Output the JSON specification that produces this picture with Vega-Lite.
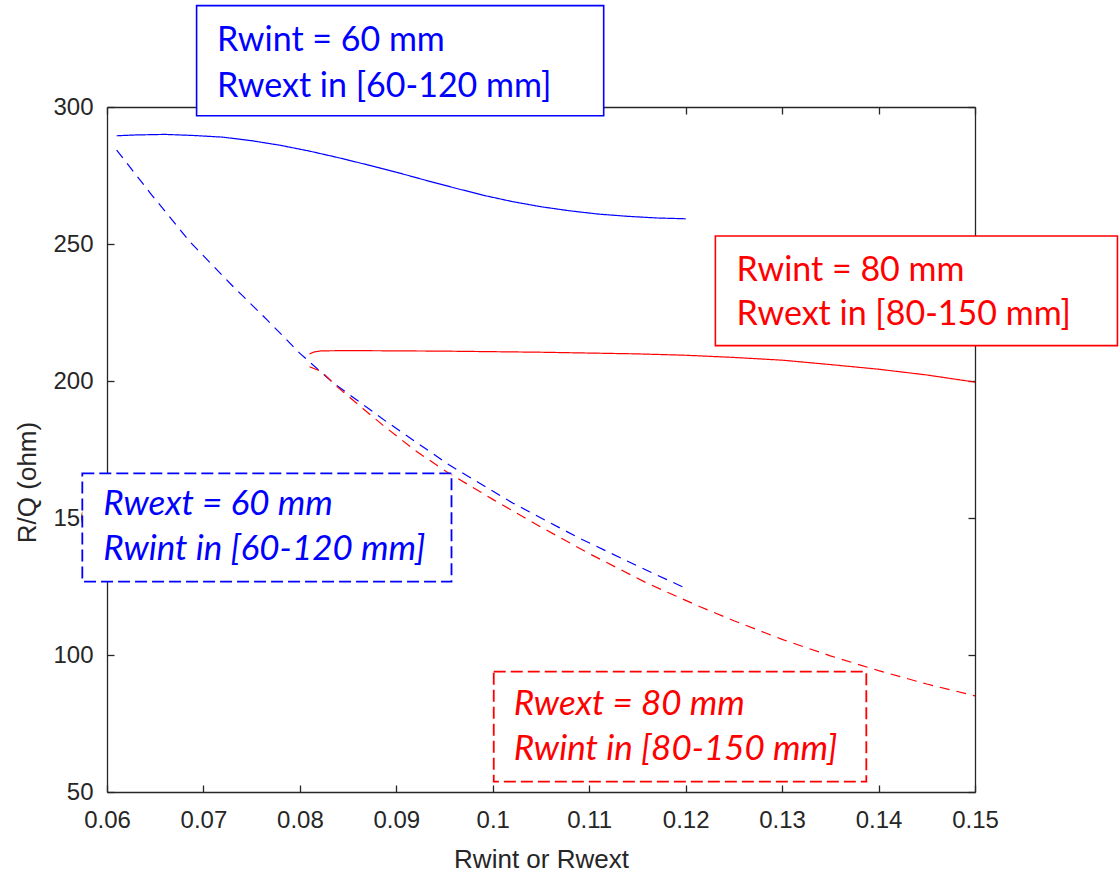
{
  "$schema": "https://vega.github.io/schema/vega-lite/v6.json",
  "width": 868,
  "height": 685,
  "autosize": {"type": "none"},
  "padding": {"left": 107, "top": 107, "right": 144, "bottom": 84},
  "background": "white",
  "config": {
    "view": {"stroke": null},
    "axis": {
      "grid": false,
      "domainColor": "#262626",
      "domainWidth": 1.3,
      "tickColor": "#262626",
      "tickWidth": 1.3,
      "tickSize": -7,
      "labelFont": "Liberation Sans",
      "labelFontSize": 24,
      "labelColor": "#262626",
      "titleFont": "Liberation Sans",
      "titleFontSize": 26,
      "titleFontWeight": "normal",
      "titleColor": "#262626",
      "zindex": 0
    }
  },
  "datasets": {
    "curves": [
      {"series": "Rwint60", "r": 0.061, "rq": 289.5},
      {"series": "Rwint60", "r": 0.063, "rq": 289.8},
      {"series": "Rwint60", "r": 0.066, "rq": 290.0},
      {"series": "Rwint60", "r": 0.069, "rq": 289.6},
      {"series": "Rwint60", "r": 0.072, "rq": 289.0},
      {"series": "Rwint60", "r": 0.075, "rq": 287.7},
      {"series": "Rwint60", "r": 0.078, "rq": 286.0},
      {"series": "Rwint60", "r": 0.081, "rq": 283.9},
      {"series": "Rwint60", "r": 0.084, "rq": 281.5},
      {"series": "Rwint60", "r": 0.087, "rq": 278.9},
      {"series": "Rwint60", "r": 0.090, "rq": 276.2},
      {"series": "Rwint60", "r": 0.093, "rq": 273.3},
      {"series": "Rwint60", "r": 0.096, "rq": 270.5},
      {"series": "Rwint60", "r": 0.099, "rq": 267.8},
      {"series": "Rwint60", "r": 0.102, "rq": 265.5},
      {"series": "Rwint60", "r": 0.105, "rq": 263.6},
      {"series": "Rwint60", "r": 0.108, "rq": 262.1},
      {"series": "Rwint60", "r": 0.111, "rq": 260.9},
      {"series": "Rwint60", "r": 0.114, "rq": 260.1},
      {"series": "Rwint60", "r": 0.117, "rq": 259.5},
      {"series": "Rwint60", "r": 0.120, "rq": 259.2},

      {"series": "Rwext60", "r": 0.061, "rq": 284.3},
      {"series": "Rwext60", "r": 0.0645, "rq": 268.5},
      {"series": "Rwext60", "r": 0.0686, "rq": 250.8},
      {"series": "Rwext60", "r": 0.0731, "rq": 234.4},
      {"series": "Rwext60", "r": 0.0766, "rq": 222.3},
      {"series": "Rwext60", "r": 0.080, "rq": 210.1},
      {"series": "Rwext60", "r": 0.0835, "rq": 199.2},
      {"series": "Rwext60", "r": 0.089, "rq": 185.1},
      {"series": "Rwext60", "r": 0.0955, "rq": 169.3},
      {"series": "Rwext60", "r": 0.1021, "rq": 155.4},
      {"series": "Rwext60", "r": 0.109, "rq": 142.6},
      {"series": "Rwext60", "r": 0.1159, "rq": 131.0},
      {"series": "Rwext60", "r": 0.1198, "rq": 124.7},

      {"series": "Rwint80", "r": 0.081, "rq": 209.9},
      {"series": "Rwint80", "r": 0.0815, "rq": 210.6},
      {"series": "Rwint80", "r": 0.0822, "rq": 211.0},
      {"series": "Rwint80", "r": 0.085, "rq": 211.1},
      {"series": "Rwint80", "r": 0.090, "rq": 211.0},
      {"series": "Rwint80", "r": 0.095, "rq": 210.9},
      {"series": "Rwint80", "r": 0.100, "rq": 210.7},
      {"series": "Rwint80", "r": 0.105, "rq": 210.5},
      {"series": "Rwint80", "r": 0.110, "rq": 210.2},
      {"series": "Rwint80", "r": 0.115, "rq": 209.9},
      {"series": "Rwint80", "r": 0.120, "rq": 209.4},
      {"series": "Rwint80", "r": 0.125, "rq": 208.6},
      {"series": "Rwint80", "r": 0.130, "rq": 207.6},
      {"series": "Rwint80", "r": 0.135, "rq": 206.0},
      {"series": "Rwint80", "r": 0.140, "rq": 204.3},
      {"series": "Rwint80", "r": 0.145, "rq": 202.2},
      {"series": "Rwint80", "r": 0.150, "rq": 199.6},

      {"series": "Rwext80", "r": 0.081, "rq": 205.2},
      {"series": "Rwext80", "r": 0.0822, "rq": 203.5},
      {"series": "Rwext80", "r": 0.084, "rq": 197.5},
      {"series": "Rwext80", "r": 0.086, "rq": 191.5},
      {"series": "Rwext80", "r": 0.0886, "rq": 183.9},
      {"series": "Rwext80", "r": 0.092, "rq": 174.5},
      {"series": "Rwext80", "r": 0.0952, "rq": 166.9},
      {"series": "Rwext80", "r": 0.100, "rq": 156.8},
      {"series": "Rwext80", "r": 0.105, "rq": 146.7},
      {"series": "Rwext80", "r": 0.110, "rq": 137.0},
      {"series": "Rwext80", "r": 0.116, "rq": 126.2},
      {"series": "Rwext80", "r": 0.1215, "rq": 117.6},
      {"series": "Rwext80", "r": 0.125, "rq": 112.5},
      {"series": "Rwext80", "r": 0.130, "rq": 105.7},
      {"series": "Rwext80", "r": 0.135, "rq": 99.7},
      {"series": "Rwext80", "r": 0.140, "rq": 94.3},
      {"series": "Rwext80", "r": 0.145, "rq": 89.4},
      {"series": "Rwext80", "r": 0.150, "rq": 85.1}
    ],
    "boxes": [
      {"series": "Rwint60", "x0": 0.06929, "x1": 0.1115, "y0": 296.8, "y1": 337.0},
      {"series": "Rwint80", "x0": 0.12308, "x1": 0.16477, "y0": 212.9, "y1": 252.9},
      {"series": "Rwext60", "x0": 0.05744, "x1": 0.09572, "y0": 126.75, "y1": 166.3},
      {"series": "Rwext80", "x0": 0.1001, "x1": 0.13873, "y0": 53.76, "y1": 93.9}
    ],
    "notes": [
      {"series": "Rwint60", "x": 0.0714, "y": 320.4, "label": "Rwint = 60 mm"},
      {"series": "Rwint60", "x": 0.0714, "y": 303.8, "label": "Rwext in [60-120 mm]"},
      {"series": "Rwint80", "x": 0.12528, "y": 236.5, "label": "Rwint = 80 mm"},
      {"series": "Rwint80", "x": 0.12528, "y": 220.4, "label": "Rwext in [80-150 mm]"},
      {"series": "Rwext60", "x": 0.05962, "y": 151.1, "label": "Rwext = 60 mm"},
      {"series": "Rwext60", "x": 0.05962, "y": 134.7, "label": "Rwint in [60-120 mm]"},
      {"series": "Rwext80", "x": 0.10218, "y": 78.1, "label": "Rwext = 80 mm"},
      {"series": "Rwext80", "x": 0.10218, "y": 61.7, "label": "Rwint in [80-150 mm]"}
    ]
  },
  "layer": [
    {
      "data": {"name": "curves"},
      "mark": {"type": "line", "strokeWidth": 1.2},
      "encoding": {
        "x": {
          "field": "r", "type": "quantitative",
          "scale": {"domain": [0.06, 0.15], "nice": false, "zero": false},
          "axis": {
            "orient": "bottom",
            "values": [0.06, 0.07, 0.08, 0.09, 0.1, 0.11, 0.12, 0.13, 0.14, 0.15],
            "format": ".2~f",
            "labelPadding": 23,
            "labelFlush": false,
            "title": "Rwint or Rwext",
            "titleY": 75,
            "titleBaseline": "alphabetic"
          }
        },
        "y": {
          "field": "rq", "type": "quantitative",
          "scale": {"domain": [50, 300], "nice": false, "zero": false},
          "axis": {
            "orient": "left",
            "values": [50, 100, 150, 200, 250, 300],
            "format": "d",
            "labelPadding": 21,
            "labelFlush": false,
            "title": "R/Q (ohm)",
            "titleX": -80,
            "titleY": 375,
            "titleBaseline": "middle"
          }
        },
        "color": {
          "field": "series", "type": "nominal",
          "scale": {"domain": ["Rwint60", "Rwext60", "Rwint80", "Rwext80"], "range": ["#0000ff", "#0000ff", "#ff0000", "#ff0000"]},
          "legend": null
        },
        "strokeDash": {
          "field": "series", "type": "nominal",
          "scale": {"domain": ["Rwint60", "Rwext60", "Rwint80", "Rwext80"], "range": [[1, 0], [10, 7], [1, 0], [10, 7]]},
          "legend": null
        }
      }
    },
    {
      "data": {"name": "boxes"},
      "transform": [{"filter": "indexof(['Rwint60', 'Rwint80'], datum.series) >= 0"}],
      "mark": {"type": "rect", "fill": "white", "strokeWidth": 1.6},
      "encoding": {
        "x": {
          "field": "x0", "type": "quantitative",
          "scale": {"domain": [0.06, 0.15], "nice": false, "zero": false},
          "axis": {"orient": "top", "values": [0.06, 0.07, 0.08, 0.09, 0.1, 0.11, 0.12, 0.13, 0.14, 0.15], "labels": false, "title": null}
        },
        "x2": {"field": "x1"},
        "y": {
          "field": "y0", "type": "quantitative",
          "scale": {"domain": [50, 300], "nice": false, "zero": false},
          "axis": {"orient": "right", "values": [50, 100, 150, 200, 250, 300], "labels": false, "title": null}
        },
        "y2": {"field": "y1"},
        "stroke": {
          "field": "series", "type": "nominal",
          "scale": {"domain": ["Rwint60", "Rwext60", "Rwint80", "Rwext80"], "range": ["#0000ff", "#0000ff", "#ff0000", "#ff0000"]},
          "legend": null
        }
      }
    },
    {
      "data": {"name": "boxes"},
      "transform": [{"filter": "indexof(['Rwext60', 'Rwext80'], datum.series) >= 0"}],
      "mark": {"type": "rect", "fill": "white", "strokeWidth": 1.8, "strokeDash": [12, 5]},
      "encoding": {
        "x": {"field": "x0", "type": "quantitative", "scale": {"domain": [0.06, 0.15], "nice": false, "zero": false}, "axis": null},
        "x2": {"field": "x1"},
        "y": {"field": "y0", "type": "quantitative", "scale": {"domain": [50, 300], "nice": false, "zero": false}, "axis": null},
        "y2": {"field": "y1"},
        "stroke": {
          "field": "series", "type": "nominal",
          "scale": {"domain": ["Rwint60", "Rwext60", "Rwint80", "Rwext80"], "range": ["#0000ff", "#0000ff", "#ff0000", "#ff0000"]},
          "legend": null
        }
      }
    },
    {
      "data": {"name": "notes"},
      "transform": [{"filter": "indexof(['Rwint60', 'Rwint80'], datum.series) >= 0"}],
      "mark": {"type": "text", "align": "left", "baseline": "alphabetic", "font": "Lato", "fontSize": 34},
      "encoding": {
        "x": {"field": "x", "type": "quantitative", "scale": {"domain": [0.06, 0.15], "nice": false, "zero": false}, "axis": null},
        "y": {"field": "y", "type": "quantitative", "scale": {"domain": [50, 300], "nice": false, "zero": false}, "axis": null},
        "text": {"field": "label"},
        "color": {
          "field": "series", "type": "nominal",
          "scale": {"domain": ["Rwint60", "Rwext60", "Rwint80", "Rwext80"], "range": ["#0000ff", "#0000ff", "#ff0000", "#ff0000"]},
          "legend": null
        }
      }
    },
    {
      "data": {"name": "notes"},
      "transform": [{"filter": "indexof(['Rwext60', 'Rwext80'], datum.series) >= 0"}],
      "mark": {"type": "text", "align": "left", "baseline": "alphabetic", "font": "Lato", "fontSize": 35, "fontStyle": "italic"},
      "encoding": {
        "x": {"field": "x", "type": "quantitative", "scale": {"domain": [0.06, 0.15], "nice": false, "zero": false}, "axis": null},
        "y": {"field": "y", "type": "quantitative", "scale": {"domain": [50, 300], "nice": false, "zero": false}, "axis": null},
        "text": {"field": "label"},
        "color": {
          "field": "series", "type": "nominal",
          "scale": {"domain": ["Rwint60", "Rwext60", "Rwint80", "Rwext80"], "range": ["#0000ff", "#0000ff", "#ff0000", "#ff0000"]},
          "legend": null
        }
      }
    }
  ],
  "resolve": {"axis": {"x": "independent", "y": "independent"}}
}
